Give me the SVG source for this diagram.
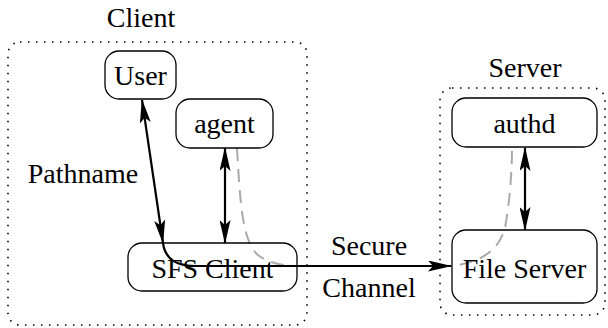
<svg xmlns="http://www.w3.org/2000/svg" width="608" height="328" viewBox="0 0 608 328">
<defs>
<style>
.node{fill:#fff;stroke:#000;stroke-width:1.3}
.group{fill:none;stroke:#000;stroke-width:1.6;stroke-dasharray:1.5 6.5}
.arr{fill:none;stroke:#000;stroke-width:2.2}
.gray{fill:none;stroke:#aaa;stroke-width:2;stroke-dasharray:13 8}
</style>
<marker id="ah" viewBox="0 0 24 11" refX="23" refY="5.5" markerWidth="24" markerHeight="11" markerUnits="userSpaceOnUse" orient="auto-start-reverse">
<path d="M0,0 L24,5.5 L0,11 L5,5.5 z" fill="#000"/>
</marker>
</defs>
<g font-family="Liberation Serif" font-size="28" text-anchor="middle" fill="#000">
<g id="client-group">
<rect class="group" x="8" y="42" width="299" height="283" rx="12"/>
<text x="141" y="27">Client</text>
</g>
<g id="server-group">
<rect class="group" x="440" y="88" width="165" height="227" rx="12"/>
<text x="525" y="77">Server</text>
</g>
<g id="connectors">
<path class="gray" d="M237,148 C240,200 242,242 258,255 Q272,266 300,266 L452,266 C480,262 498,252 505,228 C510,200 512,170 512,148"/>
<line class="arr" x1="142" y1="100" x2="163" y2="243" marker-start="url(#ah)" marker-end="url(#ah)"/>
<path class="arr" d="M163,243 Q166,266 195,266 L451,266" marker-end="url(#ah)"/>
<line class="arr" x1="225" y1="148" x2="225" y2="243" marker-start="url(#ah)" marker-end="url(#ah)"/>
<line class="arr" x1="525" y1="148" x2="525" y2="230" marker-start="url(#ah)" marker-end="url(#ah)"/>
<text x="83" y="183">Pathname</text>
<text x="369" y="255">Secure</text>
<text x="369" y="297">Channel</text>
</g>
<g id="user">
<rect class="node" x="105" y="51" width="71" height="48" rx="14"/>
<text x="140.5" y="85">User</text>
</g>
<g id="agent">
<rect class="node" x="176" y="99" width="97" height="49" rx="14"/>
<text x="224.5" y="133">agent</text>
</g>
<g id="sfs-client">
<rect class="node" x="128" y="243" width="169" height="48" rx="14" style="fill:none"/>
<text x="212.5" y="278">SFS Client</text>
</g>
<g id="authd">
<rect class="node" x="452" y="98" width="145" height="49" rx="14"/>
<text x="524.5" y="133">authd</text>
</g>
<g id="file-server">
<rect class="node" x="452" y="230" width="145" height="73" rx="14" style="fill:none"/>
<text x="524.5" y="278">File Server</text>
</g>
</g>
</svg>
